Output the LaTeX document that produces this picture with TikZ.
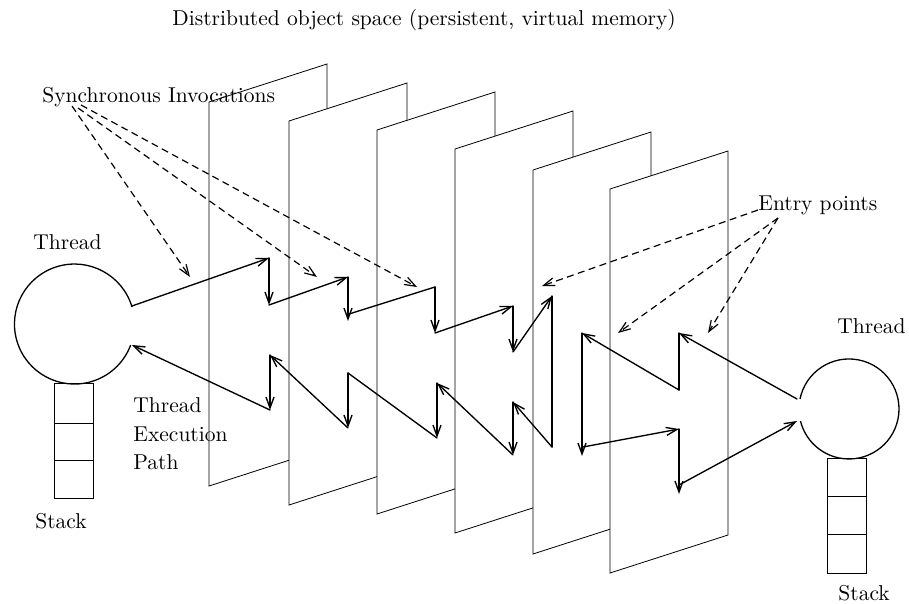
\documentclass[tikz,border=0pt]{standalone}
\usetikzlibrary{arrows.meta}
\begin{document}
\begin{tikzpicture}[x=1pt,y=-1pt,
  panel/.style={draw=black, fill=white, line width=0.8pt},
  tpath/.style={draw=black, line width=1.35pt, line cap=round},
  arr/.style={tpath, -{Straight Barb[length=11pt,width=8pt]}},
  dsh/.style={draw=black, line width=1.2pt, dash pattern=on 7pt off 4.5pt, -{Straight Barb[length=11pt,width=8pt]}},
  threadcirc/.style={draw=black, line width=1.3pt},
  stackbox/.style={draw=black, line width=0.9pt},
  lbl/.style={scale=2.15, inner sep=0pt, anchor=base west, font=\fontsize{10}{12}\selectfont},
]
\useasboundingbox (0,0) rectangle (909,604);

% panels, back to front
\foreach \L/\T in {209/102, 289/121, 377/130, 455/149, 533/170, 610/189}{
  \draw[panel] (\L,\T) -- ++(118,-38) -- ++(0,384) -- ++(-118,38) -- cycle;
}

% left thread
\draw[threadcirc] (132,307) arc[start angle=-16.5, end angle=-339.5, radius=60];
\draw[stackbox] (54,383) rectangle (93,498);
\draw[stackbox] (54,423) -- (93,423) (54,460) -- (93,460);

% right thread
\draw[threadcirc] (800,399) arc[start angle=191.5, end angle=526, radius=50];
\draw[stackbox] (827,458) rectangle (866,573);
\draw[stackbox] (827,496) -- (866,496) (827,534) -- (866,534);

% coordinates of the left thread path
\coordinate (a0) at (132,306);
\coordinate (a1) at (269,258);
\coordinate (a2) at (269,305);
\coordinate (a3) at (348,277);
\coordinate (a4) at (348,321);
\coordinate (a4s) at (349,314);
\coordinate (a5) at (435,287);
\coordinate (a6) at (435,333);
\coordinate (a7) at (513,306);
\coordinate (a8) at (513,352);
\coordinate (a9) at (552,296);
\coordinate (a10) at (552,447);
\coordinate (a11) at (513,402);
\coordinate (a12) at (513,455);
\coordinate (a13) at (437,383);
\coordinate (a14) at (437,438);
\coordinate (a15) at (348,373);
\coordinate (a16) at (348,428);
\coordinate (a17) at (270,355);
\coordinate (a18) at (270,410);
\coordinate (a19) at (132,345);

\draw[arr] (a0) -- (a1);
\draw[arr] (a1) -- (a2);
\draw[arr] (a2) -- (a3);
\draw[arr] (a3) -- (a4);
\draw[tpath] (a4s) -- (a5);
\draw[arr] (a5) -- (a6);
\draw[arr] (a6) -- (a7);
\draw[arr] (a7) -- (a8);
\draw[arr] (a8) -- (a9);
\draw[tpath] (a9) -- (a10);
\draw[arr] (a10) -- (a11);
\draw[arr] (a11) -- (a12);
\draw[arr] (a12) -- (a13);
\draw[arr] (a13) -- (a14);
\draw[tpath] (a14) -- (a15);
\draw[arr] (a15) -- (a16);
\draw[arr] (a16) -- (a17);
\draw[arr] (a17) -- (a18);
\draw[arr] (a18) -- (a19);

% right thread path
\coordinate (b0) at (797,399);
\coordinate (b1) at (679,333);
\coordinate (b2) at (679,390);
\coordinate (b3) at (582,333);
\coordinate (b4) at (582,456);
\coordinate (b4s) at (583,447);
\coordinate (b5) at (679,429);
\coordinate (b6) at (679,494);
\coordinate (b6s) at (679,485);
\coordinate (b7) at (797,421);

\draw[arr] (b0) -- (b1);
\draw[tpath] (b1) -- (b2);
\draw[arr] (b2) -- (b3);
\draw[arr] (b3) -- (b4);
\draw[arr] (b4s) -- (b5);
\draw[arr] (b5) -- (b6);
\draw[arr] (b6s) -- (b7);

% labels
\node[lbl] (title) at (172,26) {Distributed object space (persistent, virtual memory)};
\node[lbl] (sync) at (42,103) {Synchronous Invocations};
\node[lbl] (thL) at (33,249) {Thread};
\node[lbl] (tep1) at (133,412) {Thread};
\node[lbl] (tep2) at (133,441) {Execution};
\node[lbl] (tep3) at (133,469) {Path};
\node[lbl] (stL) at (35,528) {Stack};
\node[lbl] (entry) at (758,210) {Entry points};
\node[lbl] (thR) at (837,333) {Thread};
\node[lbl] (stR) at (838,600) {Stack};

% dashed pointers
\coordinate (s1) at (72,106);
\coordinate (s2) at (78,108);
\coordinate (s3) at (81,105);
\coordinate (t1) at (190,277);
\coordinate (t2) at (317,277);
\coordinate (t3) at (417,287);
\draw[dsh] (s1) -- (t1);
\draw[dsh] (s2) -- (t2);
\draw[dsh] (s3) -- (t3);

\coordinate (e0) at (758,210);
\coordinate (e00) at (778,218);
\coordinate (u1) at (542,286);
\coordinate (u2) at (618,333);
\coordinate (u3) at (708,333);
\draw[dsh] (e0) -- (u1);
\draw[dsh] (e00) -- (u2);
\draw[dsh] (e00) -- (u3);
\end{tikzpicture}
\end{document}
